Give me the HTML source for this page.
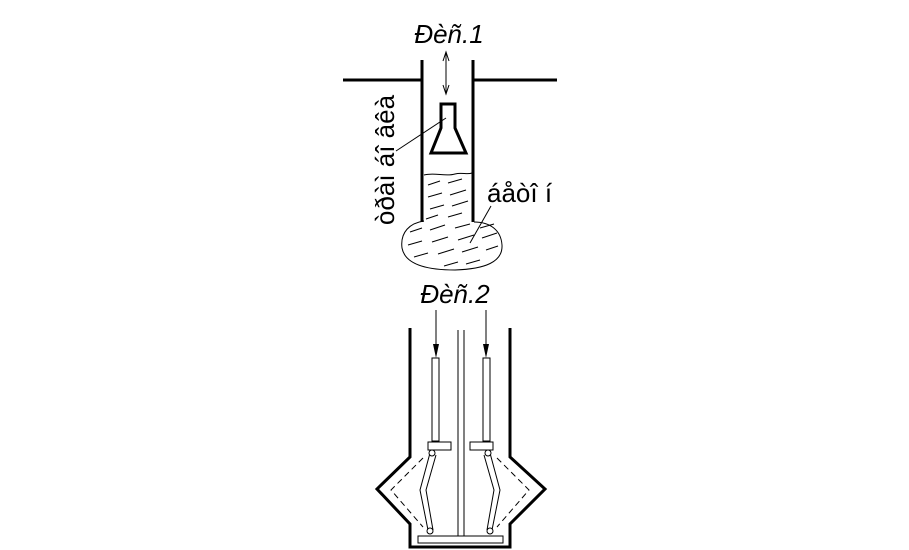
<!DOCTYPE html>
<html><head><meta charset="utf-8"><style>
html,body{margin:0;padding:0;background:#fff;}
svg{display:block;font-family:"Liberation Sans",sans-serif;}
</style></head><body>
<svg width="909" height="550" viewBox="0 0 909 550" xmlns="http://www.w3.org/2000/svg">
<text x="449" y="43" font-size="26" font-style="italic" text-anchor="middle">Đèñ.1</text>
<line x1="446" y1="52" x2="446" y2="94" stroke="#000" stroke-width="1"/>
<path d="M443,61 L446,52 L449,61 M443,85 L446,94 L449,85" fill="none" stroke="#000" stroke-width="1"/>
<line x1="343" y1="80" x2="421" y2="80" stroke="#000" stroke-width="3"/>
<line x1="474" y1="80" x2="557" y2="80" stroke="#000" stroke-width="3"/>
<line x1="422" y1="60" x2="422" y2="222" stroke="#000" stroke-width="3"/>
<line x1="473" y1="60" x2="473" y2="222" stroke="#000" stroke-width="3"/>
<path d="M441,104 H455 V128 L466,153 H431 L441,128 Z" fill="none" stroke="#000" stroke-width="3"/>
<line x1="446" y1="118" x2="396" y2="151" stroke="#000" stroke-width="1"/>
<text transform="translate(394,160) rotate(-90)" font-size="26" text-anchor="middle">òðàì  áî âêà</text>
<path d="M424,175 C435,172 445,177 455,174 C462,172 467,175 472,173" fill="none" stroke="#000" stroke-width="1"/>
<path d="M424,221 C410,223 400,232 402,248 C405,264 425,270 455,270 C485,269 503,262 502,245 C501,230 490,222 474,222" fill="none" stroke="#000" stroke-width="1"/>
<g stroke="#000" stroke-width="1">
<line x1="428" y1="185" x2="440" y2="181"/><line x1="448" y1="183" x2="462" y2="179"/>
<line x1="428" y1="197" x2="442" y2="193"/><line x1="450" y1="195" x2="466" y2="190"/>
<line x1="430" y1="209" x2="444" y2="205"/><line x1="452" y1="206" x2="468" y2="201"/>
<line x1="426" y1="219" x2="438" y2="215"/><line x1="448" y1="217" x2="462" y2="213"/>
<line x1="410" y1="232" x2="422" y2="228"/><line x1="430" y1="230" x2="445" y2="225"/><line x1="455" y1="228" x2="470" y2="224"/><line x1="480" y1="228" x2="494" y2="224"/>
<line x1="408" y1="245" x2="422" y2="241"/><line x1="432" y1="242" x2="448" y2="237"/><line x1="458" y1="240" x2="474" y2="235"/><line x1="482" y1="238" x2="497" y2="233"/>
<line x1="414" y1="257" x2="428" y2="253"/><line x1="438" y1="254" x2="454" y2="249"/><line x1="462" y1="252" x2="478" y2="247"/><line x1="486" y1="250" x2="498" y2="246"/>
<line x1="444" y1="266" x2="458" y2="262"/><line x1="466" y1="264" x2="480" y2="260"/>
</g>
<text x="487" y="202" font-size="26">áåòî í</text>
<line x1="491" y1="206" x2="470" y2="243" stroke="#000" stroke-width="1"/>

<text x="455" y="303" font-size="26" font-style="italic" text-anchor="middle">Đèñ.2</text>
<line x1="436" y1="310" x2="436" y2="345" stroke="#000" stroke-width="1"/>
<line x1="486" y1="310" x2="486" y2="345" stroke="#000" stroke-width="1"/>
<path d="M433,344 L436,358 L439,344 Z M483,344 L486,358 L489,344 Z" fill="#000"/>
<path d="M410,328 V457 L377,489 L410,524 V547 H510 V524 L545,489 L510,457 V328" fill="none" stroke="#000" stroke-width="3"/>
<path d="M423,458 L391,490 L423,527 M497,458 L529,490 L497,527" fill="none" stroke="#000" stroke-width="1" stroke-dasharray="6,4"/>
<line x1="458" y1="330" x2="458" y2="537" stroke="#000" stroke-width="1"/>
<line x1="464" y1="330" x2="464" y2="537" stroke="#000" stroke-width="1"/>
<g fill="#fff" stroke="#000" stroke-width="1">
<rect x="432" y="358" width="7" height="83"/>
<rect x="483" y="358" width="7" height="83"/>
<rect x="428" y="442" width="23" height="8"/>
<rect x="470" y="442" width="23" height="8"/>
<rect x="418" y="536" width="85" height="7"/>
<path d="M430,453 L420,490 L428,530 M436,455 L426,490 L433,530"/>
<path d="M490,453 L500,490 L492,530 M484,455 L494,490 L487,530"/>
<circle cx="432" cy="453" r="3"/><circle cx="430" cy="531" r="3"/>
<circle cx="488" cy="453" r="3"/><circle cx="490" cy="531" r="3"/>
</g>
</svg>
</body></html>
